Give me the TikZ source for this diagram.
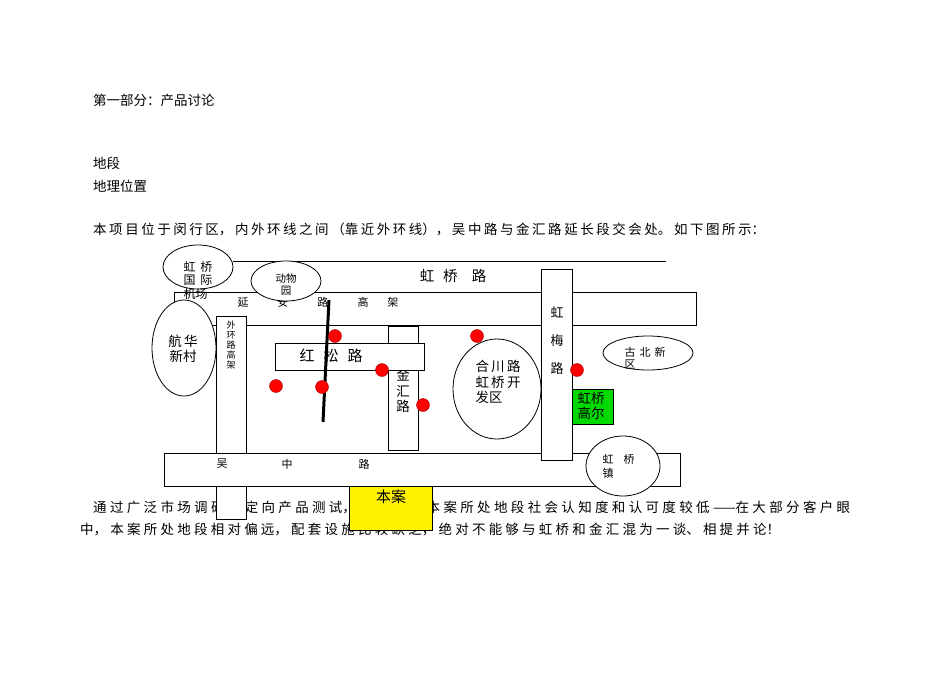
\documentclass[tikz,border=0pt]{standalone}
\usepackage{fontspec}
\setmainfont{Noto Sans CJK SC}
\newcommand{\spreadline}[2]{\parbox{#1}{\XeTeXlinebreaklocale "zh"\XeTeXlinebreakskip=0pt plus 1fil\parfillskip=0pt\relax\noindent #2}}
\tikzset{
 box/.style={draw=black, fill=white, line width=0.8pt},
 oval/.style={draw=black, fill=white, line width=0.8pt},
 dot/.style={circle, fill=red, draw=red!60!black, minimum width=12pt, minimum height=13pt, inner sep=0pt},
 lbl/.style={font=\fontsize{13.5}{15.5}\selectfont, inner sep=0pt},
 sml/.style={font=\fontsize{10.5}{12}\selectfont, inner sep=0pt, align=center},
 para/.style={font=\fontsize{13.5}{15}\selectfont, anchor=west, inner sep=0pt}
}
\begin{document}
\begin{tikzpicture}[x=1pt,y=-1pt]
\useasboundingbox (0,0) rectangle (950,672);
% texts
\node[para] (h1) at (93,100) {第一部分：产品讨论};
\node[para] (h2) at (93,163) {地段};
\node[para] (h3) at (93,186) {地理位置};
\node[para] (p1) at (93,229) {\spreadline{672pt}{本项目位于闵行区，内外环线之间（靠近外环线），吴中路与金汇路延长段交会处。如下图所示：}};
\node[para] (p2) at (93,507) {\spreadline{757pt}{通过广泛市场调研和定向产品测试，我们发现本案所处地段社会认知度和认可度较低——在大部分客户眼}};
\node[para] (p3) at (80,529) {\spreadline{700pt}{中，本案所处地段相对偏远，配套设施比较缺乏，绝对不能够与虹桥和金汇混为一谈、相提并论！}};
% map
\coordinate (hqa) at (233,261); \coordinate (hqb) at (666,261);
\draw[line width=0.8pt] (hqa) -- (hqb);
\node[lbl, font=\fontsize{14.5}{16}\selectfont] (hql) at (453,276) {虹\hspace{9pt}桥\hspace{14pt}路};
\draw[box] (174,292) rectangle (696,325);
\node[lbl, font=\fontsize{11}{12}\selectfont] (yal) at (318,302) {延\hspace{29pt}安\hspace{29pt}路\hspace{29pt}高\hspace{19pt}架};
\draw[box] (216,316) rectangle (246,519);
\node[sml, font=\fontsize{9}{10}\selectfont] (whl) at (231,345) {外\\环\\路\\高\\架};
\draw[oval] (184,348) ellipse (32 and 48);
\node[lbl, align=center] (hhl) at (183,349) {航\,华\\新村};
\draw[oval] (198,267) ellipse (35 and 22);
\node[lbl, align=left, font=\fontsize{12}{13.5}\selectfont] (jcl) at (198,280) {虹\hspace{5pt}桥\\国\hspace{5pt}际\\机场};
\draw[oval] (286,281) ellipse (35 and 20);
\node[sml] (dwl) at (286,285) {动物\\园};
\draw[box] (388,326) rectangle (418,450);
\node[lbl, align=center] (jhl) at (403,391) {金\\汇\\路};
\draw[box] (275,343) rectangle (424,370);
\node[lbl, font=\fontsize{15}{16}\selectfont] (hsl) at (331,356) {红\hspace{9pt}松\hspace{9pt}路};
\draw[box] (164,453) rectangle (680,486);
\node[sml, font=\fontsize{11}{12}\selectfont] (w1) at (222,464) {吴};
\node[sml, font=\fontsize{11}{12}\selectfont] (w2) at (287,464) {中};
\node[sml, font=\fontsize{11}{12}\selectfont] (w3) at (364,464) {路};
\draw[box] (541,269) rectangle (572,460);
\node[lbl, align=center, font=\fontsize{13}{28}\selectfont] (hml) at (557,341) {虹\\梅\\路};
\draw[oval] (497,389) ellipse (44 and 50);
\node[lbl, align=left] (hcl) at (498,382) {合\,川\,路\\虹\,桥\,开\\发区};
\draw[oval] (648,353) ellipse (45 and 17);
\node[sml, align=left, font=\fontsize{11}{12}\selectfont] (gbl) at (648,358) {古\hspace{4pt}北\hspace{4pt}新\\区\hspace{36pt}\mbox{}};
\draw[draw=black, fill=green!85!black] (572,389) rectangle (613,424);
\node[lbl, align=left] (gel) at (591,406) {虹桥\\高尔};
\draw[oval] (623,466) ellipse (37 and 30);
\node[sml, align=left, font=\fontsize{11}{14}\selectfont] (hzl) at (620,466) {虹\hspace{10pt}桥\\镇\hspace{24pt}\mbox{}};
\draw[draw=black, fill=yellow] (349,486) rectangle (432,530);
\node[lbl, font=\fontsize{15}{16}\selectfont] (bal) at (391,497) {本案};
\coordinate (la) at (329,300); \coordinate (lb) at (323,422);
\draw[line width=3pt] (la) -- (lb);
\node[dot] (d1) at (335,336) {};
\node[dot] (d2) at (276,386) {};
\node[dot] (d3) at (322,387) {};
\node[dot] (d4) at (382,370) {};
\node[dot] (d5) at (423,405) {};
\node[dot] (d6) at (477,336) {};
\node[dot] (d7) at (577,370) {};
\end{tikzpicture}
\end{document}
